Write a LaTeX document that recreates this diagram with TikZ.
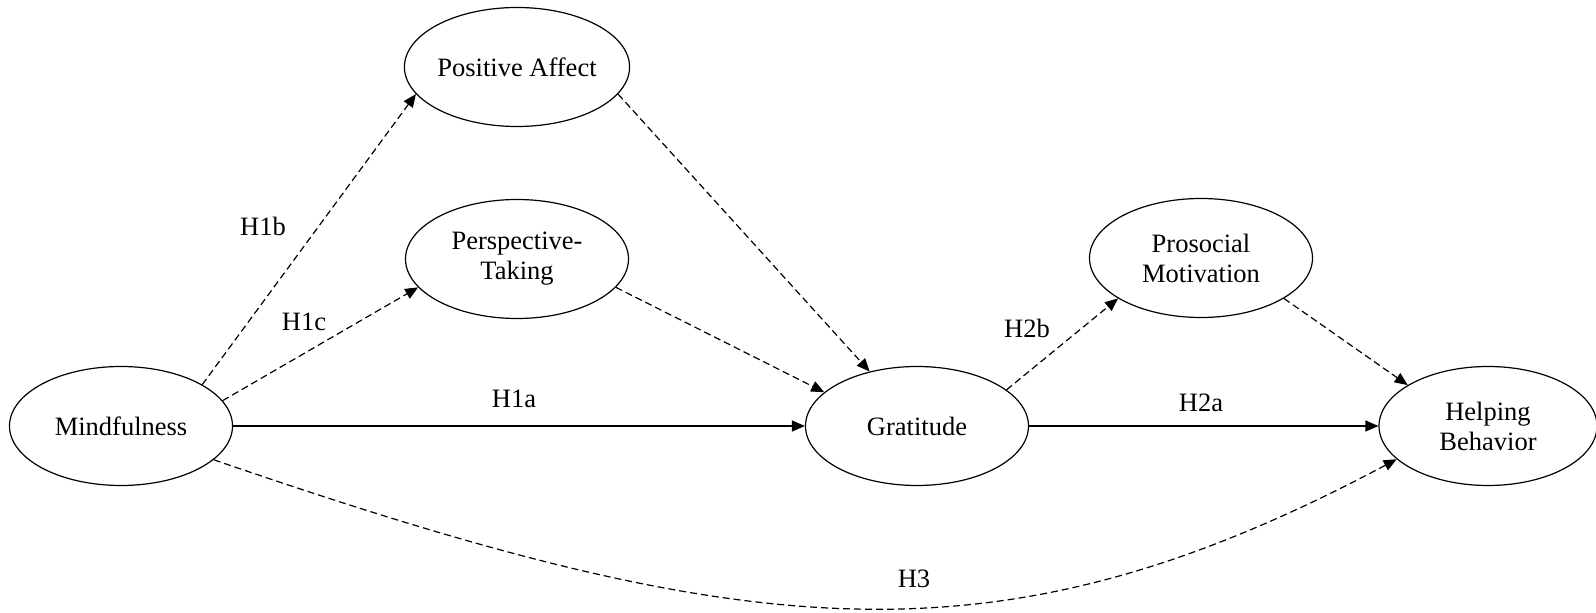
\documentclass[tikz,border=0pt]{standalone}
\usepackage{fontspec}
\setmainfont{Liberation Serif}
\usetikzlibrary{shapes.geometric,arrows.meta}
\begin{document}
\begin{tikzpicture}[x=1pt,y=1pt,
  every node/.style={font=\fontsize{26.5}{30}\selectfont},
  var/.style={ellipse,draw,line width=1.2pt,inner sep=0pt,align=center,minimum width=223pt,minimum height=119pt},
  lab/.style={inner sep=0pt},
  arr/.style={line width=1.2pt,-{Triangle[length=13pt,width=11pt]}},
  dsh/.style={arr,dash pattern=on 7pt off 4pt}]
\useasboundingbox (0,0) rectangle (1596,613);
\node[var] (M)  at (121,187) {Mindfulness};
\node[var] (PA) at (517,546) {Positive Affect};
\node[var] (PT) at (517,354) {Perspective-\\Taking};
\node[var] (G)  at (917,187) {Gratitude};
\node[var] (PM) at (1201,355) {Prosocial\\Motivation};
\node[var,minimum width=218pt] (HB) at (1488,187) {Helping\\Behavior};
\node[lab] (l1b) at (263,387) {H1b};
\node[lab] (l1c) at (304,291) {H1c};
\node[lab] (l1a) at (514,214) {H1a};
\node[lab] (l2b) at (1027,285) {H2b};
\node[lab] (l2a) at (1201,210) {H2a};
\node[lab] (l3)  at (914,34) {H3};
\draw[dsh] (M.27) -- (PA.195);
\draw[dsh] (M.14) -- (PT.196);
\draw[arr] (M.east) -- (G.west);
\draw[dsh] (PA.345) -- (G.131);
\draw[dsh] (PT.344) -- (G.160);
\draw[dsh] (G.22) -- (PM.206);
\draw[arr] (G.east) -- (HB.west);
\draw[dsh] (PM.334) -- (HB.153);
\draw[dsh] (M.340) .. controls +(-19:570) and +(208:450) .. (HB.200);
\end{tikzpicture}
\end{document}
